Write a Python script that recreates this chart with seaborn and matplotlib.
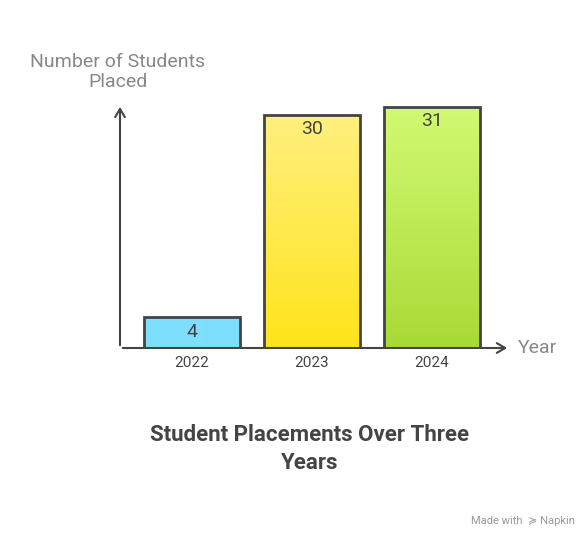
import matplotlib
matplotlib.use("Agg")
import matplotlib.pyplot as plt
import seaborn as sns
import numpy as np
import pandas as pd
from matplotlib.colors import LinearSegmentedColormap

years = ["2022", "2023", "2024"]
placed = [4, 30, 31]
top_colors = ["#7EDFFC", "#FFF080", "#D2FA72"]
bottom_colors = ["#7EDFFC", "#FFE41A", "#A8DA36"]

sns.set_style("white")
plt.rcParams['font.family'] = ['Roboto', 'DejaVu Sans']

W, H = 588, 538
fig = plt.figure(figsize=(W/100, H/100), dpi=100)
ax = fig.add_axes([120/W, (H-348)/H, (510-120)/W, 244/H])
df = pd.DataFrame({"year": years, "placed": placed})
sns.barplot(data=df, x="year", y="placed", ax=ax, width=0.8, color="white",
            edgecolor="#444444", linewidth=2)
ax.set_xlim(-0.6, 2.65)
ax.set_ylim(0, 31.4)
for s in ax.spines.values():
    s.set_visible(False)
ax.set_xticks([]); ax.set_yticks([])
ax.set_xlabel(""); ax.set_ylabel("")

for p, v, tc, bc in zip(ax.patches, placed, top_colors, bottom_colors):
    x0, w = p.get_x(), p.get_width()
    cmap = LinearSegmentedColormap.from_list("g", [bc, tc])
    grad = np.linspace(0, 1, 256).reshape(-1, 1)
    im = ax.imshow(grad, extent=[x0, x0 + w, 0, v], origin="lower", aspect="auto",
                   cmap=cmap, zorder=p.get_zorder() + 0.1)
    im.set_clip_path(p)
    p.set_facecolor("none")
    p.set_zorder(p.get_zorder() + 0.2)
    ax.text(x0 + w/2, v - 0.6 if v > 10 else v/2, str(v), ha="center",
            va="top" if v > 10 else "center", fontsize=14, color="#444444", zorder=5)

# axes arrows
ax.annotate("", xy=(0, 1.0), xytext=(0, 0), xycoords="axes fraction",
            arrowprops=dict(arrowstyle="->,head_width=0.35,head_length=0.6", color="#444444", lw=1.5))
ax.annotate("", xy=(1.0, 0), xytext=(0, 0), xycoords="axes fraction",
            arrowprops=dict(arrowstyle="->,head_width=0.35,head_length=0.6", color="#444444", lw=1.5))

for i, y in enumerate(years):
    ax.text(i, -1.9, y, ha="center", va="center", fontsize=11, color="#444444")

fig.text(518/W, 1 - 348/H, "Year", ha="left", va="center", fontsize=14, color="#888888")
fig.text(118/W, 1 - 72/H, "Number of Students\nPlaced", ha="center", va="center",
         fontsize=14, color="#888888", linespacing=1.2)
fig.text(310/W, 1 - 449/H, "Student Placements Over Three\nYears", ha="center", va="center",
         fontsize=16, fontweight="bold", color="#444444", linespacing=1.3)
fig.text(575/W, 1 - 521/H, "Made with  ≽ Napkin", ha="right", va="center",
         fontsize=8, color="#999999")

fig.savefig("out.png", dpi=100)
